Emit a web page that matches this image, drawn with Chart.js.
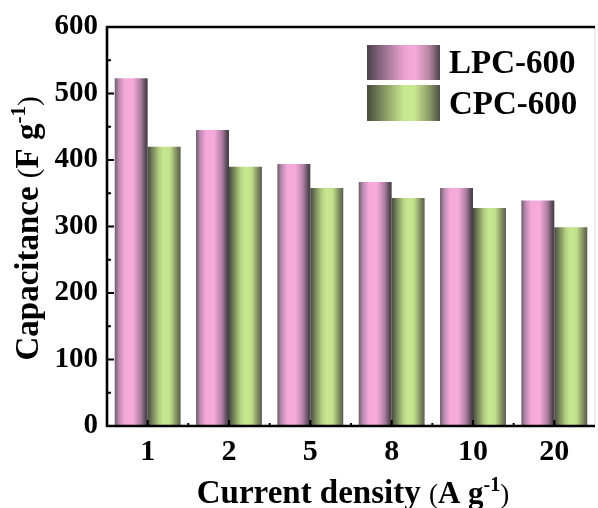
<!DOCTYPE html>
<html>
<head>
<meta charset="utf-8">
<script src="https://cdn.jsdelivr.net/npm/chart.js@4/dist/chart.umd.min.js"></script>
<style>
  html, body { margin: 0; padding: 0; background: #fff; }
  #wrap { width: 598px; height: 508px; }
</style>
</head>
<body>
<div id="wrap"><canvas id="chart" width="598" height="508"></canvas></div>
<script>
// datos
var categories = ['1', '2', '5', '8', '10', '20'];
var lpcValues = [523, 445, 394, 367, 358, 339];
var cpcValues = [420, 390, 358, 343, 328, 299];
var yTicks = [0, 100, 200, 300, 400, 500, 600];

var SERIF = '"Liberation Serif", "Times New Roman", serif';
var CAT_PCT = 0.81;

var pinkStops = [[0, '#6d5a68'], [0.12, '#b98aaf'], [0.3, '#f5a8da'], [0.55, '#f7aadc'], [0.78, '#b080a4'], [0.95, '#4f4450'], [1, '#4a4048']];
var greenStops = [[0, '#474a40'], [0.12, '#6f7a55'], [0.35, '#b4d282'], [0.5, '#c8e890'], [0.68, '#c0e08a'], [0.88, '#7e8a60'], [1, '#565c4a']];
var pinkLegend = [[0, '#4a3f47'], [0.2, '#8d6a84'], [0.5, '#e9a0d0'], [0.65, '#f7abdd'], [0.85, '#b5869f'], [1, '#4d4249']];
var greenLegend = [[0, '#454a3c'], [0.25, '#8a9a64'], [0.5, '#c8e88f'], [0.65, '#c8e890'], [0.85, '#8e9a68'], [1, '#4c5143']];

function makeGrad(c, x0, x1, stops) {
    var g = c.createLinearGradient(x0, 0, x1, 0);
    stops.forEach(function (s) { g.addColorStop(s[0], s[1]); });
    return g;
}

function barFill(stops) {
    return function (ctx) {
        var chart = ctx.chart;
        if (!chart.chartArea || ctx.type !== 'data') return stops[3][1];
        var xs = chart.scales.x;
        var c = xs.getPixelForValue(ctx.dataIndex);
        var bw = xs.width / categories.length * CAT_PCT / 2;
        var x0 = ctx.datasetIndex === 0 ? c - bw : c;
        return makeGrad(chart.ctx, x0, x0 + bw, stops);
    };
}

function drawRuns(c, runs, x, y) {
    var total = 0;
    runs.forEach(function (r) { c.font = r.font; r.w = c.measureText(r.text).width; total += r.w; });
    var cx = x - total / 2;
    runs.forEach(function (r) {
        c.font = r.font;
        c.fillText(r.text, cx, y - (r.rise || 0));
        cx += r.w;
    });
}

var decorPlugin = {
    id: 'decor',
    afterDraw: function (chart) {
        var c = chart.ctx;
        var a = chart.chartArea;
        var xs = chart.scales.x, ys = chart.scales.y;
        c.save();
        c.strokeStyle = '#000';
        // marcas de los ejes hacia dentro
        c.lineWidth = 2;
        for (var i = 0; i < yTicks.length; i++) {
            var py = ys.getPixelForValue(yTicks[i]);
            c.beginPath(); c.moveTo(a.left, py); c.lineTo(a.left + 7, py); c.stroke();
            if (i < yTicks.length - 1) {
                var pm = ys.getPixelForValue((yTicks[i] + yTicks[i + 1]) / 2);
                c.beginPath(); c.moveTo(a.left, pm); c.lineTo(a.left + 4, pm); c.stroke();
            }
        }
        for (var j = 0; j < categories.length; j++) {
            var px = xs.getPixelForValue(j);
            c.beginPath(); c.moveTo(px, a.bottom); c.lineTo(px, a.bottom - 6); c.stroke();
            var pb = xs.getPixelForValue(j + 0.5);
            if (j < categories.length - 1) {
                c.beginPath(); c.moveTo(pb, a.bottom); c.lineTo(pb, a.bottom - 3); c.stroke();
            }
        }
        // marco
        c.strokeStyle = '#dcdcdc';
        c.lineWidth = 1;
        c.beginPath(); c.moveTo(a.right, a.top); c.lineTo(a.right, a.bottom); c.stroke();
        c.strokeStyle = '#000';
        c.lineWidth = 2.6;
        c.beginPath();
        c.moveTo(a.right, a.top); c.lineTo(a.left, a.top); c.lineTo(a.left, a.bottom); c.lineTo(a.right, a.bottom);
        c.stroke();

        // leyenda
        var ds = chart.data.datasets;
        var legStops = [pinkLegend, greenLegend];
        var boxes = [[367, 45, 73, 35], [367, 85, 73, 36]];
        c.textAlign = 'left';
        c.textBaseline = 'middle';
        c.fillStyle = '#000';
        for (var k = 0; k < ds.length; k++) {
            var b = boxes[k];
            c.fillStyle = makeGrad(c, b[0], b[0] + b[2], legStops[k]);
            c.fillRect(b[0], b[1], b[2], b[3]);
            c.fillStyle = '#000';
            c.font = 'bold 33px ' + SERIF;
            c.fillText(ds[k].label, 449, b[1] + b[3] / 2 + 2);
        }

        // titulos de los ejes
        c.textBaseline = 'alphabetic';
        c.textAlign = 'left';
        drawRuns(c, [
            { text: 'Current density ', font: 'bold 33px ' + SERIF },
            { text: '(', font: '27px ' + SERIF },
            { text: 'A g', font: 'bold 31px ' + SERIF },
            { text: '-1', font: 'bold 20px ' + SERIF, rise: 12 },
            { text: ')', font: '27px ' + SERIF }
        ], (a.left + a.right) / 2 + 2, 503);

        c.translate(38, (a.top + a.bottom) / 2 + 2);
        c.rotate(-Math.PI / 2);
        drawRuns(c, [
            { text: 'Capacitance ', font: 'bold 33px ' + SERIF },
            { text: '(', font: '29px ' + SERIF },
            { text: 'F g', font: 'bold 33px ' + SERIF },
            { text: '-1', font: 'bold 21px ' + SERIF, rise: 13 },
            { text: ')', font: '29px ' + SERIF }
        ], 0, 0);
        c.restore();
    }
};

var chart = new Chart(document.getElementById('chart').getContext('2d'), {
    type: 'bar',
    data: {
        labels: categories,
        datasets: [{
            label: 'LPC-600',
            data: lpcValues,
            backgroundColor: barFill(pinkStops),
            borderWidth: 0
        }, {
            label: 'CPC-600',
            data: cpcValues,
            backgroundColor: barFill(greenStops),
            borderWidth: 0
        }]
    },
    options: {
        responsive: false,
        animation: false,
        events: [],
        datasets: { bar: { categoryPercentage: CAT_PCT, barPercentage: 1 } },
        layout: { padding: { top: 27, right: 3, left: 0, bottom: 0 } },
        plugins: { legend: { display: false }, tooltip: { enabled: false } },
        scales: {
            x: {
                grid: { display: false, drawTicks: false },
                border: { display: false },
                ticks: { color: '#000', padding: 8, font: { family: SERIF, size: 30, weight: 'bold' } },
                afterFit: function (s) { s.height = 82; }
            },
            y: {
                min: 0,
                max: 600,
                grid: { display: false, drawTicks: false },
                border: { display: false },
                afterBuildTicks: function (s) { s.ticks = yTicks.map(function (v) { return { value: v }; }); },
                ticks: { color: '#000', padding: 9, font: { family: SERIF, size: 29, weight: 'bold' } },
                afterFit: function (s) { s.width = 107; }
            }
        }
    },
    plugins: [decorPlugin]
});
</script>
</body>
</html>
